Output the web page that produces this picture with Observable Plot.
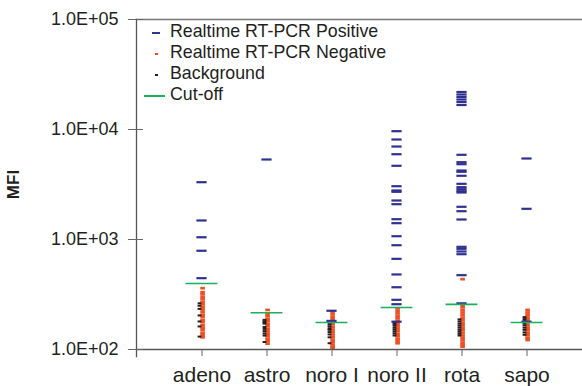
<!DOCTYPE html>
<html>
<head>
<meta charset="utf-8">
<script src="https://cdn.jsdelivr.net/npm/d3@7"></script>
<script src="https://cdn.jsdelivr.net/npm/@observablehq/plot@0.6"></script>
<style>
  html, body { margin: 0; padding: 0; background: #fff; }
  #wrap { position: relative; width: 582px; height: 386px; overflow: hidden; font-family: "Liberation Sans", Arial, sans-serif; color: #231f20; }
  #legend { position: absolute; left: 140px; top: 21px; font-size: 17.8px; line-height: 21px; }
  .row { position: relative; height: 21px; padding-left: 30px; white-space: nowrap; }
  .icon { position: absolute; height: 2px; top: 11px; }
  svg g[aria-label="y-axis label"] text { font-weight: bold; font-size: 17px; }
  svg g[aria-label="x-axis tick"] path, svg g[aria-label="y-axis tick"] path { stroke: #666; }
</style>
</head>
<body>
<div id="wrap"></div>
<script>
// ---- data ----
const categories = ["adeno", "astro", "noro I", "noro II", "rota", "sapo"];
const yTicks = [1e2, 1e3, 1e4, 1e5];
const seriesNames = ["Realtime RT-PCR Positive", "Realtime RT-PCR Negative", "Background", "Cut-off"];
const seriesColors = ["#2e3192", "#f04e23", "#231f20", "#1aaf5d"];

// Realtime RT-PCR positive samples (blue)
const positive = [
  [3318, 1489, 1048, 790, 445],
  [5337],
  [225, 182],
  [9650, 8111, 7002, 5960, 4677, 3051, 2790, 2714, 2262, 2094, 1530, 1407, 1071, 887, 667, 481, 368, 283, 258, 179],
  [21930, 20800, 19750, 18740, 17780, 16700, 5890, 5043, 4836, 4239, 4125, 3795, 3208, 2989, 2866, 2749, 2675, 1983, 1808, 1520, 858, 823, 778, 735, 474, 263],
  [5450, 1901, 179]
];
// Realtime RT-PCR negative samples (red)
const negative = [
  [361, 332, 318, 301, 286, 270, 257, 243, 231, 219, 207, 197, 185, 177, 166, 158, 151, 142, 136, 129],
  [229, 211, 201, 190, 181, 171, 163, 154, 146, 139, 132, 125, 119, 113],
  [221, 210, 199, 188, 179, 170, 161, 152, 145, 137, 130, 123, 117, 111, 106, 103],
  [237, 225, 213, 202, 192, 182, 172, 163, 155, 147, 139, 132, 125, 119, 114],
  [436, 255, 242, 229, 217, 206, 195, 185, 175, 166, 158, 150, 142, 134, 127, 121, 115, 110, 106],
  [229, 217, 206, 195, 185, 176, 166, 158, 150, 142, 135, 128, 122]
];
// Background (black)
const background = [
  [263, 250, 234, 204, 180, 162, 131],
  [186, 180, 176, 172, 160, 154, 147, 140, 134, 117],
  [175, 168, 161, 154, 151, 144, 137, 129, 114],
  [177, 171, 165, 158, 152, 146, 140, 134],
  [188, 180, 172, 165, 158, 151, 145, 139, 134],
  [197, 189, 181, 173, 166, 158, 151, 143, 136]
];
// Cut-off per assay (green)
const cutoff = [398, 216, 176, 241, 257, 176];

// ---- build tables ----
const flat = (list) => categories.flatMap((c, i) => list[i].map(v => ({cat: c, value: v})));
const posData = flat(positive);
const negData = flat(negative);
const bgData = flat(background);
const cutData = categories.map((c, i) => ({cat: c, value: cutoff[i]}));

const fmt = d => {
  const e = Math.round(Math.log10(d));
  return "1.0E+" + String(e).padStart(2, "0");
};

const chart = Plot.plot({
  width: 582,
  height: 386,
  marginLeft: 136,
  marginRight: 0,
  marginTop: 19,
  marginBottom: 37,
  style: {fontFamily: '"Liberation Sans", Arial, sans-serif', color: "#231f20", background: "#fff"},
  x: {type: "band", domain: categories, range: [136, 592], paddingInner: 0, paddingOuter: 0.5},
  y: {type: "log", domain: [1e2, 1e5]},
  marks: [
    Plot.tickY(negData, {x: "cat", y: "value", stroke: seriesColors[1], strokeWidth: 2.7, insetLeft: 31.3, insetRight: 29.1}),
    Plot.tickY(bgData, {x: "cat", y: "value", stroke: seriesColors[2], strokeWidth: 2, insetLeft: 28.6, insetRight: 32.6}),
    Plot.tickY(posData, {x: "cat", y: "value", stroke: seriesColors[0], strokeWidth: 2.2, insetLeft: 27.4, insetRight: 27.4}),
    Plot.tickY(cutData, {x: "cat", y: "value", stroke: seriesColors[3], strokeWidth: 1.6, insetLeft: 16.6, insetRight: 16.6}),
    Plot.frame({anchor: "top", stroke: "#777", strokeWidth: 1.3}),
    Plot.frame({anchor: "bottom", stroke: "#555", strokeWidth: 1.3}),
    Plot.frame({anchor: "left", stroke: "#555", strokeWidth: 1.3, insetBottom: -7}),
    Plot.axisX({tickSize: 7, tickPadding: 11, fontSize: 21, label: null}),
    Plot.axisY({ticks: yTicks, tickFormat: fmt, tickSize: 15, dx: 7, tickPadding: 10, fontSize: 18,
      label: "MFI", labelAnchor: "center", labelArrow: "none", labelOffset: 130})
  ]
});

const wrap = document.getElementById("wrap");
wrap.appendChild(chart);

// legend overlay
const legend = document.createElement("div");
legend.id = "legend";
const iconSpec = [[12, 8], [15, 3], [15, 3], [4, 21]]; // left, width
seriesNames.forEach((name, i) => {
  const row = document.createElement("div");
  row.className = "row";
  const icon = document.createElement("span");
  icon.className = "icon";
  icon.style.left = iconSpec[i][0] + "px";
  icon.style.width = iconSpec[i][1] + "px";
  icon.style.background = seriesColors[i];
  row.appendChild(icon);
  row.appendChild(document.createTextNode(name));
  legend.appendChild(row);
});
wrap.appendChild(legend);
</script>
</body>
</html>
